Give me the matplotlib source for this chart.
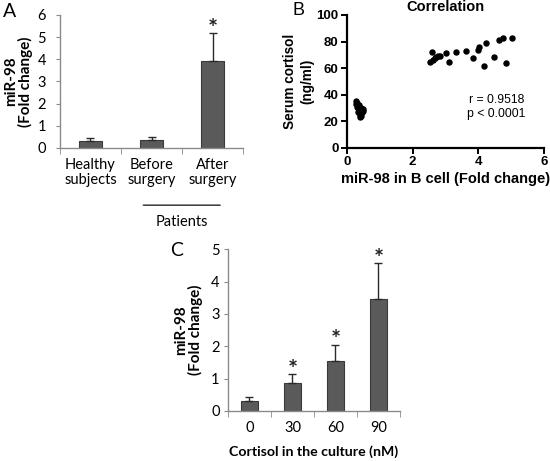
import numpy as np
import matplotlib.pyplot as plt

# panel A
groups_a = ["Healthy\nsubjects", "Before\nsurgery", "After\nsurgery"]
mean_a = [0.33, 0.38, 3.92]
err_a = [0.13, 0.13, 1.26]
star_a = [False, False, True]

# panel B
x_low = [0.27, 0.28, 0.30, 0.31, 0.33, 0.35, 0.32, 0.38, 0.40, 0.42, 0.45, 0.48, 0.50, 0.36, 0.41, 0.44, 0.39, 0.47]
y_low = [35, 33, 34, 31, 30, 29, 27, 28, 25, 24, 27, 29, 28, 32, 30, 26, 23, 27]
x_high = [2.53, 2.58, 2.62, 2.67, 2.71, 2.76, 2.83, 3.02, 3.12, 3.32, 3.63, 3.83, 4.00, 4.03, 4.16,
          4.23, 4.48, 4.64, 4.74, 4.85, 5.04]
y_high = [65, 72.4, 66.5, 67.5, 68.2, 69.5, 69.4, 71.7, 65, 72.4, 73, 68, 73.7, 76.2, 62,
          78.7, 68.7, 81.2, 82.5, 64, 83]

# panel C
doses = ["0", "30", "60", "90"]
mean_c = [0.30, 0.87, 1.55, 3.47]
err_c = [0.12, 0.26, 0.50, 1.10]
star_c = [False, True, True, True]

bar_col = "#5a5a5a"
axis_col = "#8a8a8a"
cfont = "Lato"
bfont = "Liberation Sans"

fig = plt.figure(figsize=(5.5, 4.61), dpi=100)


def bar_panel(ax, labels, means, errs, stars, ymax, bw, ypad):
    x = np.arange(len(labels))
    ax.bar(x, means, width=bw, color=bar_col, edgecolor="#3a3a3a", linewidth=0.8, zorder=2)
    ax.errorbar(x, means, yerr=[np.zeros(len(errs)), errs], fmt="none", ecolor="#2a2a2a",
                elinewidth=1.0, capsize=3, capthick=1.0, zorder=3)
    for xi, m, e, s in zip(x, means, errs, stars):
        if s:
            ax.annotate("*", (xi, m + e), xytext=(0, -2.5), textcoords="offset points",
                        ha="center", va="baseline", fontsize=17, family=cfont,
                        fontweight="bold", color="#222222")
    ax.set_xlim(-0.5, len(labels) - 0.5)
    ax.set_ylim(0, ymax)
    ax.set_yticks(range(0, ymax + 1))
    ax.set_xticks(x)
    ax.set_xticklabels(labels, fontsize=10.5, family=cfont, linespacing=1.15)
    ax.set_xticks(np.arange(-0.5, len(labels)), minor=True)
    ax.tick_params(axis="x", which="major", length=0, pad=7)
    ax.tick_params(axis="x", which="minor", length=4, color=axis_col, direction="out")
    ax.tick_params(axis="y", length=3, color=axis_col, labelsize=10.5, pad=ypad)
    for lab in ax.get_yticklabels():
        lab.set_family(cfont)
    for side in ["top", "right"]:
        ax.spines[side].set_visible(False)
    for side in ["left", "bottom"]:
        ax.spines[side].set_color(axis_col)
        ax.spines[side].set_linewidth(1.0)
    ax.set_ylabel("miR-98\n(Fold change)", fontsize=11, fontweight="bold", family=cfont,
                  linespacing=1.0)


# A
axA = fig.add_axes([0.109, 0.679, 0.333, 0.2885])
bar_panel(axA, groups_a, mean_a, err_a, star_a, 6, 0.39, 7)
axA.yaxis.set_label_coords(-0.148, 0.5)
fig.text(0.005, 0.993, "A", fontsize=14, family=cfont, va="top")
axA.annotate("", xy=(0.44, -0.43), xytext=(0.89, -0.43), xycoords="axes fraction",
             arrowprops=dict(arrowstyle="-", color="#222222", lw=1.0), annotation_clip=False)
axA.text(0.665, -0.56, "Patients", transform=axA.transAxes, ha="center", va="center",
         fontsize=10.5, family=cfont)

# B
axB = fig.add_axes([0.631, 0.679, 0.358, 0.2885])
axB.scatter(x_low + x_high, y_low + y_high, s=13, color="black", zorder=3)
axB.set_xlim(0, 6)
axB.set_ylim(0, 100)
axB.set_xticks([0, 2, 4, 6])
axB.set_yticks([0, 20, 40, 60, 80, 100])
for side in ["top", "right"]:
    axB.spines[side].set_visible(False)
for side in ["left", "bottom"]:
    axB.spines[side].set_linewidth(1.6)
axB.tick_params(width=1.4, length=4, labelsize=9.5, pad=2)
for lab in axB.get_xticklabels() + axB.get_yticklabels():
    lab.set_family(bfont)
    lab.set_fontweight("bold")
axB.set_xlabel("miR-98 in B cell (Fold change)", fontsize=10.5, fontweight="bold", family=bfont,
               labelpad=3)
axB.set_ylabel("Serum cortisol\n(ng/ml)", fontsize=9.8, fontweight="bold", family=bfont,
               linespacing=1.3)
axB.yaxis.set_label_coords(-0.168, 0.5)
axB.set_title("Correlation", fontsize=10.5, fontweight="bold", family=bfont, pad=3)
axB.text(4.55, 31, "r = 0.9518\np < 0.0001", ha="center", va="center", fontsize=8.8,
         family=bfont, linespacing=1.2)
fig.text(0.532, 0.995, "B", fontsize=13, family=bfont, va="top")

# C
axC = fig.add_axes([0.4145, 0.1085, 0.3127, 0.351])
bar_panel(axC, doses, mean_c, err_c, star_c, 5, 0.4, 3)
axC.yaxis.set_label_coords(-0.145, 0.5)
axC.set_xlabel("Cortisol in the culture (nM)", fontsize=10.2, fontweight="bold", family=cfont,
               labelpad=8)
fig.text(0.309, 0.475, "C", fontsize=14, family=cfont, va="top")

fig.savefig("out.png", dpi=100)
